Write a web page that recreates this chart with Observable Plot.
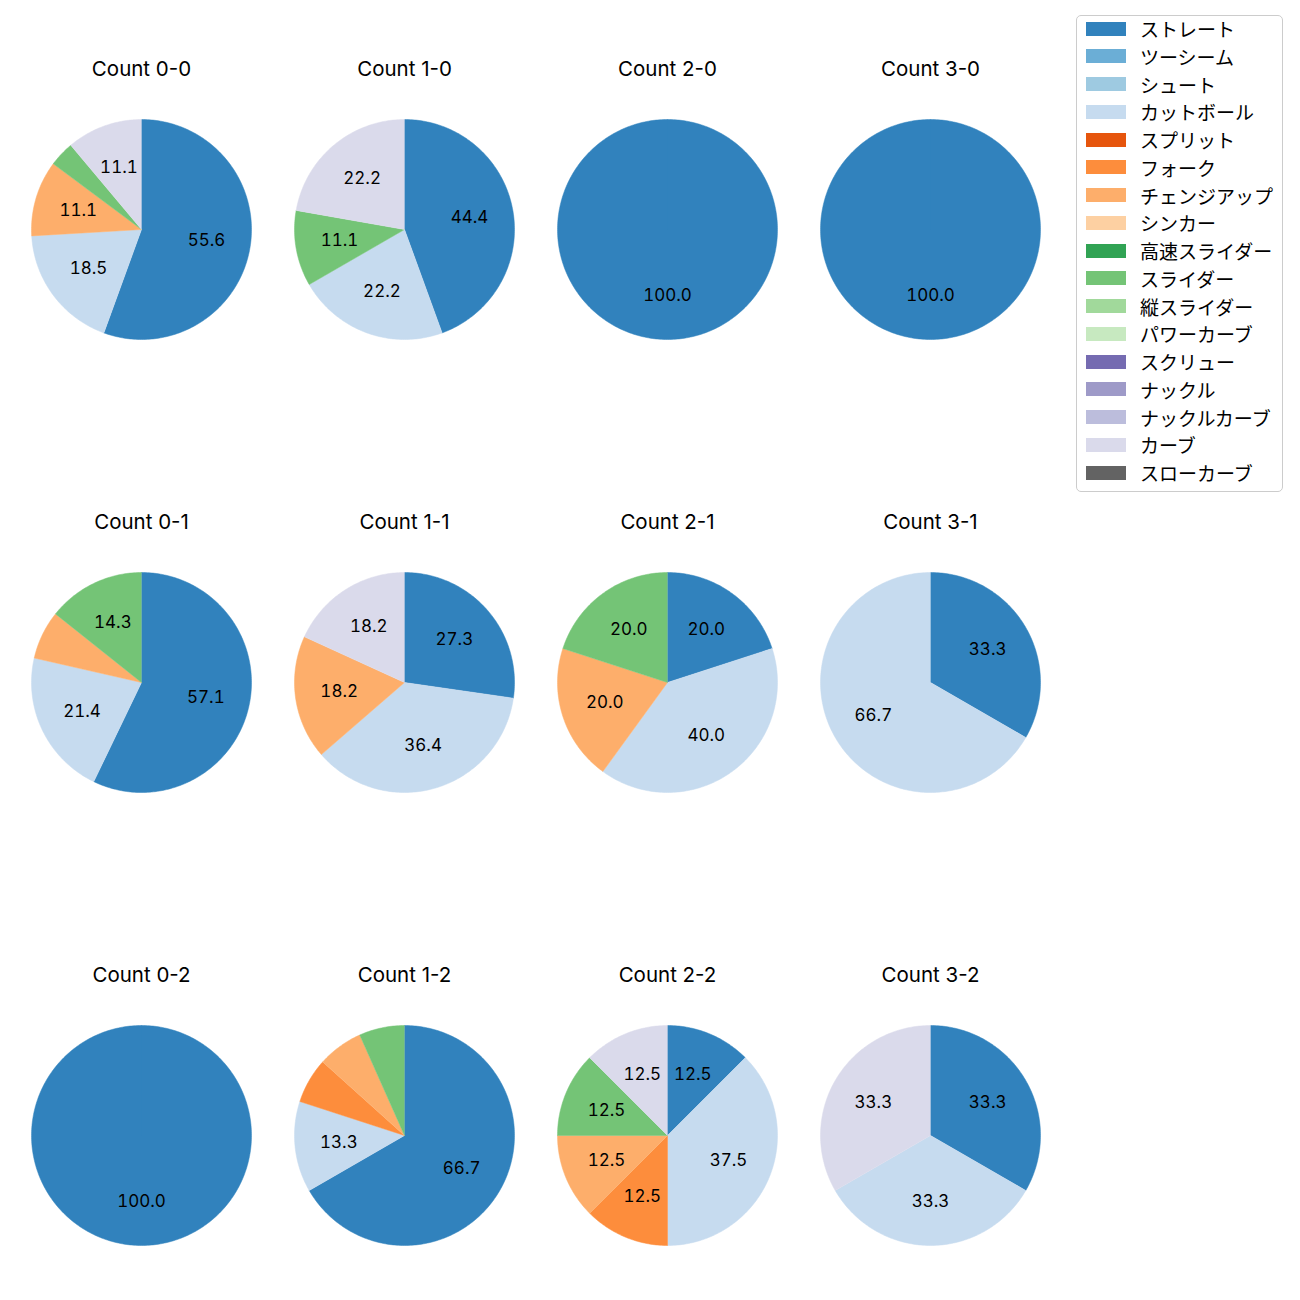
<!DOCTYPE html>
<html>
<head>
<meta charset="utf-8">
<script src="https://cdn.jsdelivr.net/npm/d3@7"></script>
<script src="https://cdn.jsdelivr.net/npm/@observablehq/plot@0.6"></script>
<style>
  body { margin: 0; background: #fff; font-family: Inter, "Noto Sans CJK JP", sans-serif; }
  #wrap { position: relative; width: 1300px; height: 1300px; }
  #chart { position: absolute; left: 0; top: 0; }
  #legend {
    position: absolute; left: 1076px; top: 15px; width: 207px; height: 477px;
    box-sizing: border-box; border: 1px solid #cccccc; border-radius: 5px; background: rgba(255,255,255,0.8);
  }
  .item { position: absolute; left: 9px; height: 20px; display: flex; align-items: center; }
  .patch { width: 40px; height: 14px; margin-right: 14px; flex: none; }
  .lab { font-family: "Noto Sans CJK JP", sans-serif; font-size: 19px; color: #000; white-space: nowrap; }
</style>
</head>
<body>
<div id="wrap">
  <div id="chart"></div>
  <div id="legend"></div>
</div>
<script>
// Pitch types (legend order) and colours
const pitchTypes = ["ストレート","ツーシーム","シュート","カットボール","スプリット","フォーク","チェンジアップ","シンカー","高速スライダー","スライダー","縦スライダー","パワーカーブ","スクリュー","ナックル","ナックルカーブ","カーブ","スローカーブ"];
const pitchColors = ["#3182bd","#6baed6","#9ecae1","#c6dbef","#e6550d","#fd8d3c","#fdae6b","#fdd0a2","#31a354","#74c476","#a1d99b","#c7e9c0","#756bb1","#9e9ac8","#bcbddc","#dadaeb","#636363"];

// Ball-strike counts (panel order: rows = strikes, columns = balls)
const countLabels = ["0-0","1-0","2-0","3-0","0-1","1-1","2-1","3-1","0-2","1-2","2-2","3-2"];
const panelCol = [0,1,2,3,0,1,2,3,0,1,2,3];
const panelRow = [0,0,0,0,1,1,1,1,2,2,2,2];

// Number of pitches of each type per count (estimated from the shares shown)
const straight = [15,4,1,1,8,3,1,1,1,10,1,1];
const cutball  = [5,2,0,0,3,4,2,2,0,2,3,1];
const fork     = [0,0,0,0,0,0,0,0,0,1,1,0];
const changeup = [3,0,0,0,1,2,1,0,0,1,1,0];
const slider   = [1,1,0,0,2,0,1,0,0,1,1,0];
const curve    = [3,2,0,0,0,2,0,0,0,0,1,1];

const seriesByType = {"ストレート": straight, "カットボール": cutball, "フォーク": fork, "チェンジアップ": changeup, "スライダー": slider, "カーブ": curve};

// Build wedge outlines and label anchors (unit-radius pie, clockwise from top)
const wedgePts = [];
const labels = [];
const titles = [];
countLabels.forEach((c, i) => {
  const fx = panelCol[i], fy = panelRow[i];
  titles.push({fx, fy, text: "Count " + c});
  const parts = pitchTypes.filter(t => seriesByType[t] && seriesByType[t][i] > 0).map(t => ({type: t, v: seriesByType[t][i]}));
  const total = d3.sum(parts, d => d.v);
  let a = 0;
  parts.forEach((p, j) => {
    const a0 = a, a1 = a + (p.v / total) * 2 * Math.PI;
    a = a1;
    const key = c + "-" + j;
    const n = Math.max(2, Math.ceil((a1 - a0) / (Math.PI / 180)));
    wedgePts.push({key, type: p.type, fx, fy, x: 0, y: 0});
    for (let k = 0; k <= n; k++) {
      const t = a0 + (a1 - a0) * k / n;
      wedgePts.push({key, type: p.type, fx, fy, x: Math.sin(t), y: Math.cos(t)});
    }
    const pct = p.v / total * 100;
    if (pct >= 10) {
      const m = (a0 + a1) / 2;
      labels.push({fx, fy, x: 0.6 * Math.sin(m), y: 0.6 * Math.cos(m), text: pct.toFixed(1)});
    }
  });
});

const R = 110; // pie radius in px
const plot = Plot.plot({
  width: 1300,
  height: 1300,
  marginLeft: 9.5,
  marginRight: 238.5,
  marginTop: 0,
  marginBottom: 0,
  style: {fontFamily: "Inter, 'Noto Sans CJK JP', sans-serif", background: "transparent"},
  x: {domain: [-131.5 / R, 131.5 / R], axis: null},
  y: {domain: [-(394 - 229) / R, 229 / R], axis: null},
  fx: {domain: [0,1,2,3], axis: null, padding: 0, round: false},
  fy: {domain: [0,1,2], axis: null, paddingInner: 0.1302, paddingOuter: 0, round: false},
  color: {domain: pitchTypes, range: pitchColors},
  marks: [
    Plot.line(wedgePts, {x: "x", y: "y", z: "key", fx: "fx", fy: "fy", fill: "type", stroke: "type", strokeWidth: 0.5, curve: "linear"}),
    Plot.text(labels, {x: "x", y: "y", fx: "fx", fy: "fy", text: "text", fontSize: 17, fontVariant: "tabular-nums", fill: "#000"}),
    Plot.text(titles, {fx: "fx", fy: "fy", text: "text", frameAnchor: "top", lineAnchor: "middle", dy: 69, fontSize: 20.5, fill: "#000"})
  ]
});
document.getElementById("chart").appendChild(plot);

// Legend
const legend = document.getElementById("legend");
pitchTypes.forEach((t, i) => {
  const item = document.createElement("div");
  item.className = "item";
  item.style.top = (2.5 + i * 27.75) + "px";
  const patch = document.createElement("div");
  patch.className = "patch";
  patch.style.background = pitchColors[i];
  const lab = document.createElement("span");
  lab.className = "lab";
  lab.textContent = t;
  item.appendChild(patch);
  item.appendChild(lab);
  legend.appendChild(item);
});
</script>
</body>
</html>
